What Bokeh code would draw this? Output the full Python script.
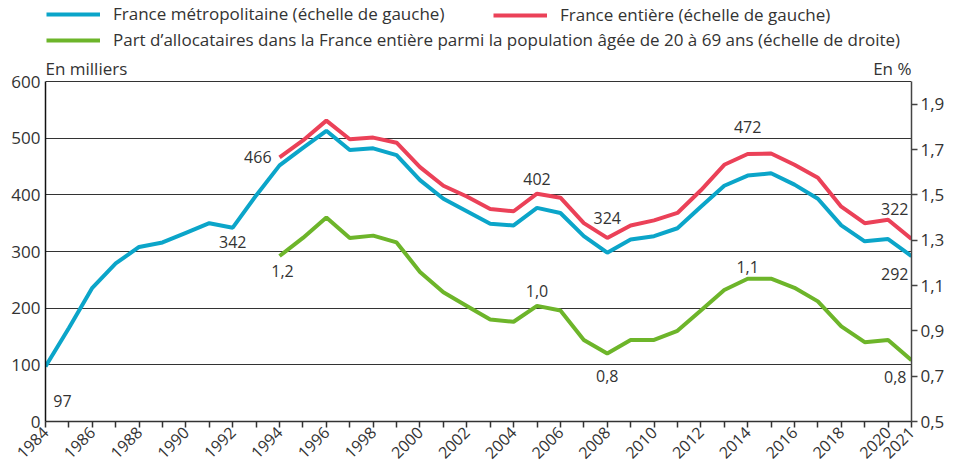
from math import pi
from bokeh.plotting import figure
from bokeh.models import (Range1d, LinearAxis, FixedTicker, CustomJSTickFormatter,
                          Legend, LegendItem, Label)
from bokeh.embed import file_html
from bokeh.resources import INLINE

# ---------------- data ----------------
years_metro = list(range(1984, 2022))
metro = [97, 165, 236, 279, 308, 316, 333, 350, 342, 399, 452, 483, 513, 479, 482,
         470, 426, 393, 371, 349, 346, 377, 368, 327, 298, 321, 327, 341, 379, 416,
         434, 438, 418, 393, 346, 318, 322, 292]

years_ent = list(range(1994, 2022))
entiere = [466, 496, 531, 498, 501, 492, 449, 416, 397, 375, 371, 402, 395, 350,
           324, 346, 355, 368, 408, 453, 472, 473, 453, 430, 379, 350, 356, 322]

part = [1.23, 1.31, 1.40, 1.31, 1.32, 1.29, 1.16, 1.07, 1.01, 0.95, 0.94, 1.01,
        0.99, 0.86, 0.80, 0.86, 0.86, 0.90, 0.99, 1.08, 1.13, 1.13, 1.09, 1.03,
        0.92, 0.85, 0.86, 0.77]

left_ticks = [0, 100, 200, 300, 400, 500, 600]
right_ticks = [0.5, 0.7, 0.9, 1.1, 1.3, 1.5, 1.7, 1.9]
x_ticks = list(range(1984, 2022))
x_labelled = [y for y in x_ticks if y % 2 == 0] + [2021]

legend_metro = "France métropolitaine (échelle de gauche)"
legend_ent = "France entière (échelle de gauche)"
legend_part = "Part d’allocataires dans la France entière parmi la population âgée de 20 à 69 ans (échelle de droite)"

# annotations: (series, year, text)
annotations = [
    ("metro", 1984, "97"), ("metro", 1992, "342"), ("ent", 1994, "466"),
    ("ent", 2005, "402"), ("ent", 2008, "324"), ("ent", 2014, "472"),
    ("ent", 2021, "322"), ("metro", 2021, "292"), ("part", 1994, "1,2"),
    ("part", 2005, "1,0"), ("part", 2008, "0,8"), ("part", 2014, "1,1"),
    ("part", 2021, "0,8"),
]
# label styling (pixel offsets, alignment) per annotation, in the same order
ann_style = [
    (17, -34, "center"), (0, -14, "center"), (-8, 0, "right"),
    (0, 15, "center"), (0, 20, "center"), (0, 27, "center"),
    (-3, 30, "right"), (-3, -18, "right"), (3, -15, "center"),
    (0, 15, "center"), (0, -22, "center"), (0, 12, "center"),
    (-5, -17, "right"),
]

FONT = "Open Sans"
TXT = "#333333"
BLUE = "#0BA5C9"
RED = "#EB4158"
GREEN = "#6DB52A"

# frame extends to the top of the canvas so that legends and unit labels sit inside it;
# the visible plotting box is 0..600 (left) / 0.5..2.0 (right), 340 px tall
FRAME_H = 421
BOX_H = 340
left_top = 600 * FRAME_H / BOX_H
right_top = 0.5 + 1.5 * FRAME_H / BOX_H

p = figure(frame_width=866, frame_height=FRAME_H, output_backend="svg",
           toolbar_location=None, x_range=Range1d(1984, 2021),
           y_range=Range1d(0, left_top), min_border_left=45, min_border_top=0,
           min_border_right=40, min_border_bottom=10)
p.extra_y_ranges = {"pct": Range1d(0.5, right_top)}
p.outline_line_color = None
p.background_fill_color = "white"

r_metro = p.line(years_metro, metro, line_color=BLUE, line_width=4)
r_ent = p.line(years_ent, entiere, line_color=RED, line_width=4)
r_part = p.line(years_ent, part, line_color=GREEN, line_width=4, y_range_name="pct")

# left axis
ya = p.yaxis[0]
ya.ticker = FixedTicker(ticks=left_ticks)
ya.bounds = (0, 600)
ya.major_tick_out = 0
ya.major_tick_in = 0
ya.minor_tick_out = 0
ya.minor_tick_in = 0
ya.axis_line_color = "#111111"
ya.axis_line_width = 1.5
ya.major_label_standoff = 5
ya.major_label_text_font = FONT
ya.major_label_text_font_size = "17px"
ya.major_label_text_color = TXT

p.ygrid.ticker = FixedTicker(ticks=left_ticks)
p.ygrid.grid_line_color = "#333333"
p.ygrid.grid_line_width = 1.2
p.xgrid.grid_line_color = None

# right axis
ra = LinearAxis(y_range_name="pct", ticker=FixedTicker(ticks=right_ticks),
                formatter=CustomJSTickFormatter(code="return tick.toFixed(1).replace('.', ',');"))
ra.bounds = (0.5, 2.0)
ra.major_tick_out = 6
ra.major_tick_in = 0
ra.minor_tick_out = 0
ra.minor_tick_in = 0
ra.axis_line_color = "#444444"
ra.axis_line_width = 1.5
ra.major_tick_line_color = "#444444"
ra.major_tick_line_width = 1.5
ra.major_label_standoff = 3
ra.major_label_text_font = FONT
ra.major_label_text_font_size = "17px"
ra.major_label_text_color = TXT
p.add_layout(ra, "right")

# x axis
xa = p.xaxis[0]
xa.ticker = FixedTicker(ticks=x_ticks)
xa.major_label_overrides = {y: ("" if y not in x_labelled else str(y)) for y in x_ticks}
xa.major_tick_out = 6
xa.major_tick_in = 0
xa.minor_tick_out = 0
xa.minor_tick_in = 0
xa.axis_line_color = "#333333"
xa.axis_line_width = 1.5
xa.major_tick_line_color = "#333333"
xa.major_tick_line_width = 1.5
xa.major_label_orientation = pi / 4
xa.major_label_standoff = 2
xa.major_label_text_font = FONT
xa.major_label_text_font_size = "16px"
xa.major_label_text_color = TXT

# unit labels
p.add_layout(Label(x=1984, y=600, text="En milliers", text_baseline="bottom",
                   text_align="left", y_offset=2, text_font=FONT,
                   text_font_size="17px", text_color=TXT))
p.add_layout(Label(x=2021, y=600, text="En %", text_baseline="bottom",
                   text_align="right", y_offset=2, text_font=FONT,
                   text_font_size="17px", text_color=TXT))

# data labels
series = {"metro": (years_metro, metro, "default"),
          "ent": (years_ent, entiere, "default"),
          "part": (years_ent, part, "pct")}
for (s, yr, txt), (dx, dy, al) in zip(annotations, ann_style):
    xs, ys, rn = series[s]
    val = ys[xs.index(yr)]
    p.add_layout(Label(x=yr, y=val, text=txt, x_offset=dx, y_offset=dy,
                       text_align=al, text_baseline="middle", y_range_name=rn,
                       text_font=FONT, text_font_size="16px", text_color=TXT))

# legends
common = dict(border_line_color=None, background_fill_alpha=0, padding=0, margin=0,
              glyph_width=54, glyph_height=22, label_height=22, spacing=3,
              label_standoff=13, label_text_font=FONT, label_text_font_size="17px",
              label_text_color=TXT)
leg1 = Legend(items=[LegendItem(label=legend_metro, renderers=[r_metro]),
                     LegendItem(label=legend_part, renderers=[r_part])],
              location=(1, 370), **common)
leg2 = Legend(items=[LegendItem(label=legend_ent, renderers=[r_ent])],
              location=(448, 395), **common)
p.add_layout(leg1)
p.add_layout(leg2)

open("out.html", "w").write(file_html(p, INLINE))
